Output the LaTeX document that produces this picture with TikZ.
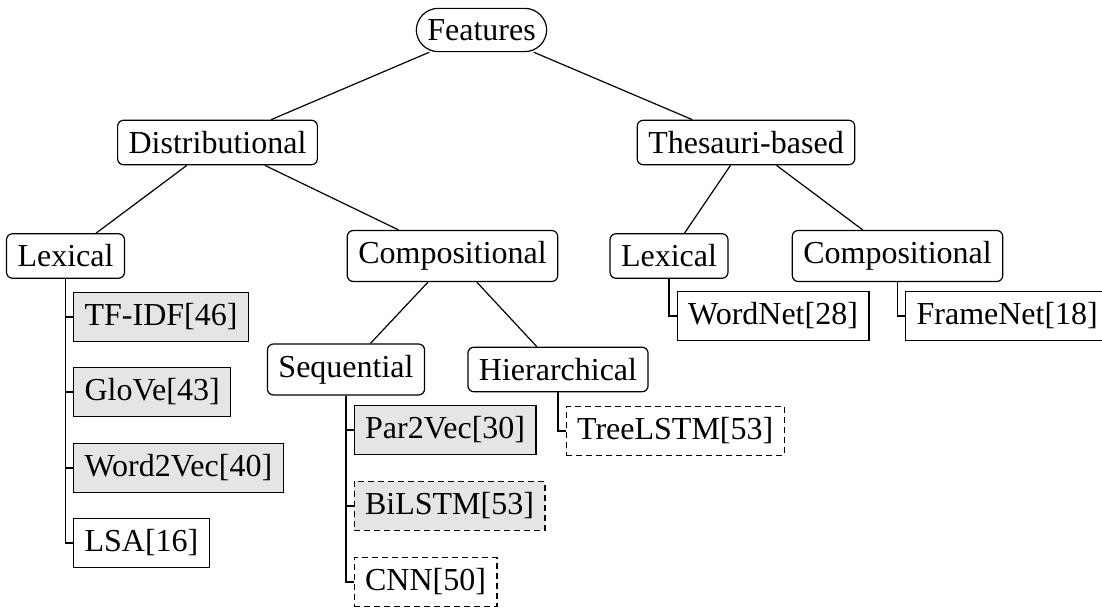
\documentclass[tikz,border=0pt]{standalone}
\usepackage{fontspec}
\setmainfont{Liberation Serif}
\usetikzlibrary{arrows}

\begin{document}
\begin{tikzpicture}[x=0.5pt,y=-0.5pt, line width=0.6pt,
			font=\fontsize{16}{19}\selectfont,
			cat/.style={draw, rounded corners=3pt, inner xsep=5.5pt, inner ysep=5.5pt},
			leaf/.style={draw, anchor=west, inner xsep=5.5pt, inner ysep=5.5pt},
			used/.style={fill=gray!20},
			planned/.style={densely dashed}]
			\useasboundingbox (0,0) rectangle (1102,608);
			\node[cat, rounded corners=11pt] (f) at (481.5,30) {Features};
			\node[cat] (d) at (217.5,142.5) {Distributional};
			\node[cat] (t) at (746,142.5) {Thesauri-based};
			\node[cat] (dl) at (65.5,256) {Lexical};
			\node[cat] (dc) at (452.5,256) {Compositional};
			\node[cat] (tl) at (669,256) {Lexical};
			\node[cat] (tc) at (897.5,256) {Compositional};
			\node[cat] (s) at (346,369.5) {Sequential};
			\node[cat] (h) at (558,369.5) {Hierarchical};
			% leaves
			\node[leaf, used] (tfidf) at (73,317) {TF-IDF[46]};
			\node[leaf, used] (glove) at (73,392) {GloVe[43]};
			\node[leaf, used] (w2v) at (73,468) {Word2Vec[40]};
			\node[leaf] (lsa) at (73,543) {LSA[16]};
			\node[leaf, used] (p2v) at (353.5,430) {Par2Vec[30]};
			\node[leaf, used, planned] (bilstm) at (353.5,506) {BiLSTM[53]};
			\node[leaf, planned] (cnn) at (353.5,582) {CNN[50]};
			\node[leaf, planned] (tree) at (565.5,431) {TreeLSTM[53]};
			\node[leaf] (wn) at (676.5,316) {WordNet[28]};
			\node[leaf] (fn) at (905,316) {FrameNet[18]};
			\path
			(f) edge (d) edge (t)
			(d) edge (dl) edge (dc)
			(dc) edge (s) edge (h)
			(t) edge (tl) edge (tc);
			\draw (dl.south) |- (tfidf.west) (dl.south) |- (glove.west)
			(dl.south) |- (w2v.west) (dl.south) |- (lsa.west);
			\draw (s.south) |- (p2v.west) (s.south) |- (bilstm.west)
			(s.south) |- (cnn.west);
			\draw (h.south) |- (tree.west);
			\draw (tl.south) |- (wn.west);
			\draw (tc.south) |- (fn.west);
		\end{tikzpicture}
\end{document}
